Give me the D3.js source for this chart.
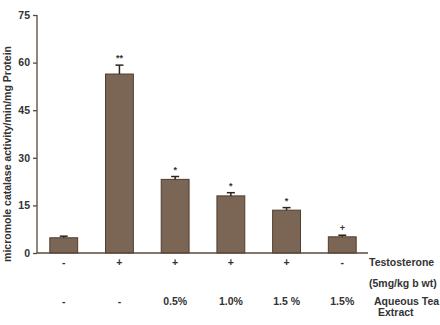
<!DOCTYPE html>
<head>
  <meta charset="utf-8">
  <script src="https://d3js.org/d3.v7.min.js"></script>
  <style>
    body { margin: 0; background: #fff; }
    text {
      font-family: 'Liberation Sans', Arial, sans-serif;
      font-size: 10.5px;
      font-weight: bold;
      fill: #333;
    }
    .axis path, .axis line { stroke: #5a4838; stroke-width: 1.3px; }
    .bar { fill: #7b6655; stroke: #4e3e30; stroke-width: 1px; }
    .err { stroke: #2e241c; stroke-width: 1.5px; fill: none; }
  </style>
</head>
<body>
  <script>
    var groups = ["g1", "g2", "g3", "g4", "g5", "g6"];
    var catalase = [4.8, 56.4, 23.2, 18.0, 13.5, 5.1];
    var errors = [0.5, 2.8, 0.9, 1.0, 0.8, 0.5];
    var marks = ["", "**", "*", "*", "*", "+"];
    var testosterone = ["-", "+", "+", "+", "+", "-"];
    var teaExtract = ["-", "-", "0.5%", "1.0%", "1.5 %", "1.5%"];
    var yTicks = [0, 15, 30, 45, 60, 75];

    var margin = { top: 15, left: 37 };
    var width = 331;
    var height = 238;

    var svg = d3.select("body").append("svg")
        .attr("width", 440)
        .attr("height", 325)
      .append("g")
        .attr("transform", "translate(" + margin.left + "," + margin.top + ")");

    var x = d3.scaleBand()
        .domain(groups)
        .range([0, 332])
        .paddingInner(0.5)
        .paddingOuter(0.23);

    var y = d3.scaleLinear()
        .domain([0, 75])
        .range([height, 0]);

    var yAxis = d3.axisLeft(y).tickValues(yTicks).tickSize(4).tickPadding(3);

    svg.append("g")
        .attr("class", "y axis")
        .call(yAxis)
        .call(function(g) { g.select(".domain").attr("d", "M0,0V" + height); });

    svg.selectAll(".bar")
        .data(catalase)
      .enter().append("rect")
        .attr("class", "bar")
        .attr("x", function(d, i) { return x(groups[i]); })
        .attr("width", x.bandwidth())
        .attr("y", function(d) { return y(d); })
        .attr("height", function(d) { return height - y(d); });

    // error bars
    catalase.forEach(function(d, i) {
      var cx = x(groups[i]) + x.bandwidth() / 2;
      var top = y(d + errors[i]);
      svg.append("line").attr("class", "err")
        .attr("x1", cx).attr("x2", cx)
        .attr("y1", y(d)).attr("y2", top);
      svg.append("line").attr("class", "err")
        .attr("x1", cx - 4).attr("x2", cx + 4)
        .attr("y1", top).attr("y2", top);
      svg.append("text")
        .attr("x", cx)
        .attr("y", top - 4)
        .attr("text-anchor", "middle")
        .style("font-size", "9px")
        .text(marks[i]);
    });

    svg.append("line")
        .attr("class", "axis")
        .attr("x1", 0).attr("x2", width)
        .attr("y1", height).attr("y2", height)
        .style("stroke", "#5a4838").style("stroke-width", "1.3px");

    svg.selectAll(".testo")
        .data(testosterone)
      .enter().append("text")
        .attr("x", function(d, i) { return x(groups[i]) + x.bandwidth() / 2; })
        .attr("y", height + 13)
        .attr("text-anchor", "middle")
        .text(function(d) { return d; });

    svg.selectAll(".tea")
        .data(teaExtract)
      .enter().append("text")
        .attr("x", function(d, i) { return x(groups[i]) + x.bandwidth() / 2; })
        .attr("y", height + 52)
        .attr("text-anchor", "middle")
        .text(function(d) { return d; });

    svg.append("text").attr("x", width + 1).attr("y", height + 13).text("Testosterone");
    svg.append("text").attr("x", width + 1).attr("y", height + 34).text("(5mg/kg b wt)");
    svg.append("text").attr("x", width + 6).attr("y", height + 52).text("Aqueous Tea");
    svg.append("text").attr("x", width + 10).attr("y", height + 63).text("Extract");

    svg.append("text")
        .attr("transform", "translate(-26," + (height / 2 + 20) + ") rotate(-90)")
        .attr("text-anchor", "middle")
        .text("micromole catalase activity/min/mg Protein");
  </script>
</body>
